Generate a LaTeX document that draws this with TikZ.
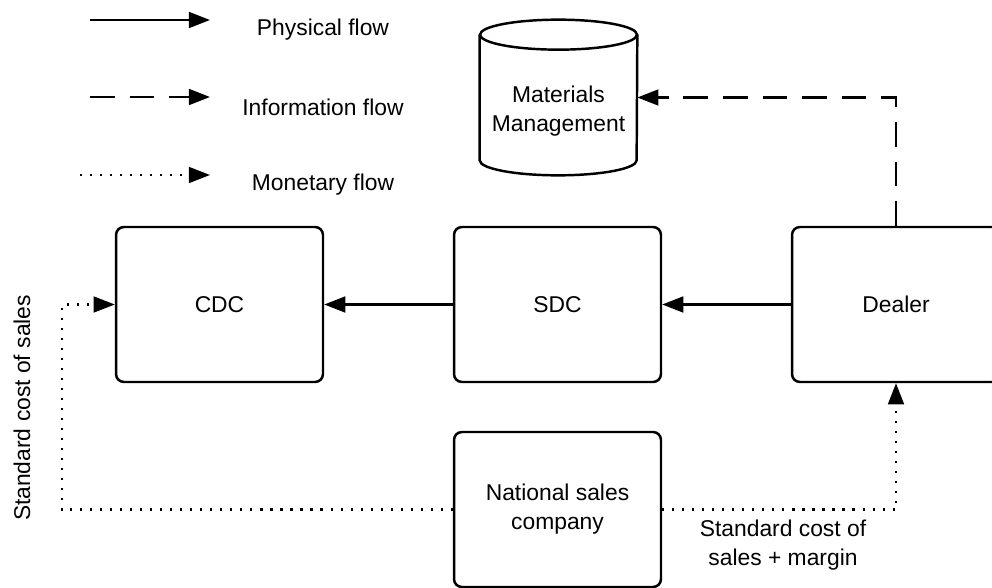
\documentclass[tikz,border=0pt]{standalone}
\usepackage{fontspec}
\setmainfont{Liberation Sans}
\usetikzlibrary{arrows.meta}

\begin{document}
\begin{tikzpicture}[x=0.02cm, y=-0.02cm, font=\fontsize{13pt}{16.5pt}\selectfont,
    >={Triangle[length=12pt, width=9pt]},
    unit/.style = {draw, line width=1.4pt, rounded corners=4.5pt, minimum width=4.14cm, minimum height=3.1cm, align=center},
    physical/.style = {line width=1.3pt, ->},
    information/.style = {line width=1.3pt, dash pattern=on 14pt off 8.5pt, ->},
    monetary/.style = {line width=1.2pt, dash pattern=on 1.2pt off 4.5pt, ->}]

    \useasboundingbox (0,0) rectangle (992,588);

    % legend
    \coordinate (lp) at (90,20);
    \coordinate (li) at (90,97);
    \coordinate (lm) at (80,175);
    \draw[physical] (lp) -- ++(120,0);
    \draw[information] (li) -- ++(120,0);
    \draw[monetary] (lm) -- ++(130,0);
    \node (tp) at (323,30) {Physical flow};
    \node (ti) at (323,107) {Information flow};
    \node (tm) at (323,185) {Monetary flow};

    % materials management (cylinder)
    \node[minimum width=3.14cm, minimum height=2.5cm] (mm) at (558.5,97.5) {};
    \draw[line width=1.4pt] (mm.north) ellipse [x radius=1.57cm, y radius=0.3cm];
    \draw[line width=1.4pt] (mm.north west) -- (mm.south west) arc [start angle=180, end angle=360, x radius=1.57cm, y radius=0.3cm] -- (mm.north east);
    \node[align=center] (mmtext) at (558.5,111) {Materials\\Management};

    % units
    \node[unit] (cdc) at (219.5,304.5) {CDC};
    \node[unit] (sdc) at (557.5,304.5) {SDC};
    \node[unit, minimum width=4.16cm] (dealer) at (896,304.5) {Dealer};
    \node[unit] (nsc) at (557.5,509.5) {National sales\\company};

    % flows
    \draw[physical] (dealer) -- (sdc);
    \draw[physical] (sdc) -- (cdc);
    \draw[information] (dealer.north) |- (mm.east);
    \draw[monetary] (nsc.west) -- ++(-391,0) |- (cdc.west);
    \draw[monetary] (nsc.east) -| (dealer.south);

    % labels
    \node[rotate=90] (lcost) at (22,408) {Standard cost of sales};
    \node[align=center] (lmargin) at (783,545) {Standard cost of\\sales + margin};

\end{tikzpicture}
\end{document}
